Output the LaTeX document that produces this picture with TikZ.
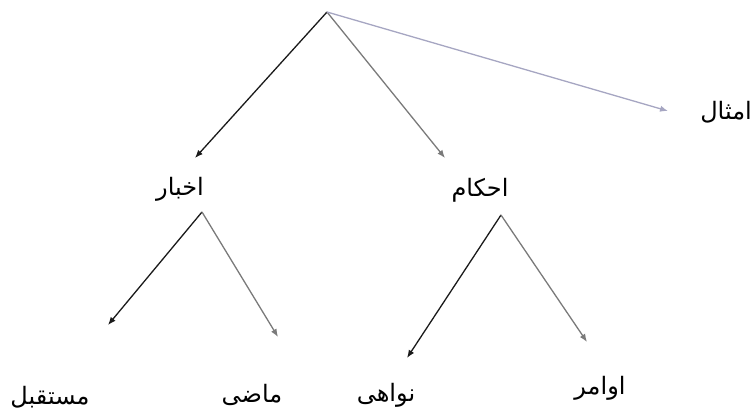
\documentclass[tikz,border=0pt]{standalone}
\usepackage{fontspec}
\newfontfamily\arabicfont[Script=Arabic]{DejaVu Sans}
\TeXXeTstate=1
\usetikzlibrary{arrows.meta}
\definecolor{LDark}{HTML}{1A1A1A}
\definecolor{LGrey}{HTML}{7A7A7A}
\definecolor{LBlue}{HTML}{A6A6C2}

\begin{document}
\begin{tikzpicture}[
  x=1pt,y=-1pt,
  every node/.style={font=\arabicfont\fontsize{24}{28}\selectfont},
  term/.style={inner sep=1pt},
  a/.style={-{Latex[length=2.8mm,width=2.2mm]},line width=1.3pt},
  dark/.style={a,color=LDark},
  grey/.style={a,color=LGrey},
  faint/.style={a,color=LBlue}
]
  \useasboundingbox (0,0) rectangle (755,415);

  \coordinate (top) at (327,12);

  \node[term] (akhbar) at (180,189) {\beginR اخبار\endR};
  \node[term] (ahkam) at (480,190) {\beginR احکام\endR};
  \node[term] (amthal) at (726,112) {\beginR امثال\endR};

  \node[term] (mostaqbal) at (50,397) {\beginR مستقبل\endR};
  \node[term] (mazi) at (252,395) {\beginR ماضی\endR};
  \node[term] (navahi) at (386,395) {\beginR نواهی\endR};
  \node[term] (avamir) at (600,388) {\beginR اوامر\endR};

  % ends of the arrows
  \coordinate (akhbar-in) at (195,158);
  \coordinate (akhbar-out) at (202,212);
  \coordinate (ahkam-in) at (445,158);
  \coordinate (ahkam-out) at (501,215);
  \coordinate (amthal-in) at (668,111);
  \coordinate (mostaqbal-in) at (108,325);
  \coordinate (mazi-in) at (278,337);
  \coordinate (navahi-in) at (407,358);
  \coordinate (avamir-in) at (587,342);

  \draw[dark] (top) -- (akhbar-in);
  \draw[grey] (top) -- (ahkam-in);
  \draw[faint] (top) -- (amthal-in);
  \draw[dark] (akhbar-out) -- (mostaqbal-in);
  \draw[grey] (akhbar-out) -- (mazi-in);
  \draw[dark] (ahkam-out) -- (navahi-in);
  \draw[grey] (ahkam-out) -- (avamir-in);
\end{tikzpicture}
\end{document}
